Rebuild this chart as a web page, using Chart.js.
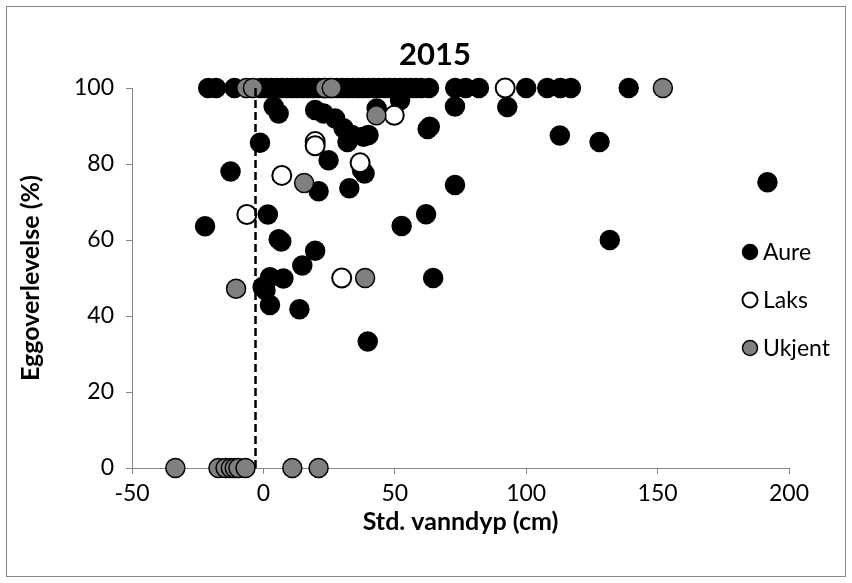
<!DOCTYPE html>
<html>
<head>
<meta charset="utf-8">
<script src="https://cdn.jsdelivr.net/npm/chart.js@4.4.0/dist/chart.umd.min.js"></script>
<style>
  html, body { margin: 0; padding: 0; background: #fff; }
  canvas { display: block; }
</style>
</head>
<body>
<canvas id="chart" width="852" height="583"></canvas>
<script>
// Aure (trout) - std. water depth (cm) vs egg survival (%)
const aureX = [-21, -18, -11, -1, 1, 3, 5, 7, 9, 11, 13, 15, 17, 19, 21, 23, 25, 28, 30, 32, 34, 36, 38, 40,
  42, 44, 46, 48, 50, 52, 54, 56, 58, 60, 63, 73, 77, 82, 100, 108, 113, 117, 139,
  3.9, 5.8, 19.7, 22.9, 27.3, 30.5, 33.7, 38.1, 40, 43.1, 52, 32, -1.3, 24.8, 37.5, 38.5,
  -12.5, 21, 32.7, 62.5, 63.3, 72.9, 92.8, 112.8, 127.9, 72.9, 61.9, 52.6, 1.7, -22.2,
  5.8, 6.8, 19.7, 14.8, 2.5, 7.6, 64.6, 131.8, 191.8, -0.3, 0.8, 2.5, 13.7, 39.7];
const aureY = [100, 100, 100, 100, 100, 100, 100, 100, 100, 100, 100, 100, 100, 100, 100, 100, 100, 100, 100, 100, 100, 100, 100, 100,
  100, 100, 100, 100, 100, 100, 100, 100, 100, 100, 100, 100, 100, 100, 100, 100, 100, 100, 100,
  95.1, 93.3, 94.2, 93.3, 92, 89.4, 87.6, 87.2, 87.6, 94.6, 96.8, 85.8, 85.6, 81, 78.4, 77.5,
  78, 72.8, 73.6, 89.2, 89.8, 95.1, 95, 87.5, 85.8, 74.5, 66.8, 63.7, 66.7, 63.6,
  60.2, 59.6, 57.2, 53.3, 50.2, 49.9, 50, 60, 75.2, 47.6, 46.8, 42.9, 41.8, 33.3];

// Laks (salmon)
const laksX = [-6.3, 7, 19.7, 19.7, 36.8, 49.8, 92, 29.8];
const laksY = [66.7, 77, 85.9, 84.8, 80.3, 92.8, 100, 50];

// Ukjent (unknown)
const ukjentX = [-6.5, -4, 23.5, 26, 152, 43, 15.5, 38.7, -10.4,
  -33.5, -17.1, -14.4, -12.4, -10.9, -9.5, -6.8, 11, 21];
const ukjentY = [100, 100, 100, 100, 100, 92.8, 75, 50, 47.2,
  0, 0, 0, 0, 0, 0, 0, 0, 0];

// dashed reference line
const dashX = [-3, -3];
const dashY = [0, 100];

const seriesNames = ['Aure', 'Laks', 'Ukjent'];
const xTicks = [-50, 0, 50, 100, 150, 200];
const yTicks = [0, 20, 40, 60, 80, 100];

function toPoints(xs, ys) {
    return xs.map((x, i) => ({ x: x, y: ys[i] }));
}

const axisGray = '#868686';
const fontName = 'Lato, Carlito, Calibri, sans-serif';

const markerStyles = [
    { fill: '#000000', stroke: '#000000', width: 1.5 },
    { fill: '#ffffff', stroke: '#000000', width: 2 },
    { fill: '#808080', stroke: '#000000', width: 1.5 },
];

// background, outer frame, title and legend
const framePlugin = {
    id: 'framePlugin',
    beforeDraw(chart) {
        const ctx = chart.ctx;
        ctx.save();
        ctx.fillStyle = '#ffffff';
        ctx.fillRect(0, 0, chart.width, chart.height);
        ctx.strokeStyle = axisGray;
        ctx.lineWidth = 1;
        ctx.strokeRect(6.5, 6.5, 839, 570);
        ctx.restore();
    },
    afterDraw(chart) {
        const ctx = chart.ctx;
        ctx.save();
        ctx.fillStyle = '#000000';
        ctx.font = 'bold 31px ' + fontName;
        ctx.textAlign = 'center';
        ctx.textBaseline = 'alphabetic';
        ctx.fillText('2015', 435, 65);

        ctx.font = '23px ' + fontName;
        ctx.textAlign = 'left';
        ctx.textBaseline = 'middle';
        seriesNames.forEach((name, i) => {
            const y = 252 + i * 48;
            const st = markerStyles[i];
            ctx.beginPath();
            ctx.arc(750, y, 7.5, 0, Math.PI * 2);
            ctx.fillStyle = st.fill;
            ctx.fill();
            ctx.lineWidth = st.width;
            ctx.strokeStyle = st.stroke;
            ctx.stroke();
            ctx.fillStyle = '#000000';
            ctx.fillText(name, 763, y + 1);
        });
        ctx.restore();
    }
};

const ctx = document.getElementById('chart').getContext('2d');
new Chart(ctx, {
    type: 'scatter',
    data: {
        datasets: [
            {
                label: 'dash',
                type: 'line',
                data: toPoints(dashX, dashY),
                borderColor: '#000000',
                borderWidth: 2.5,
                borderDash: [8, 4],
                pointRadius: 0,
                fill: false,
                order: 0,
                clip: false,
            },
            {
                label: seriesNames[0],
                data: toPoints(aureX, aureY),
                backgroundColor: markerStyles[0].fill,
                borderColor: markerStyles[0].stroke,
                borderWidth: markerStyles[0].width,
                pointRadius: 9.5,
                order: 3,
                clip: false,
            },
            {
                label: seriesNames[1],
                data: toPoints(laksX, laksY),
                backgroundColor: markerStyles[1].fill,
                borderColor: markerStyles[1].stroke,
                borderWidth: markerStyles[1].width,
                pointRadius: 9.5,
                order: 2,
                clip: false,
            },
            {
                label: seriesNames[2],
                data: toPoints(ukjentX, ukjentY),
                backgroundColor: markerStyles[2].fill,
                borderColor: markerStyles[2].stroke,
                borderWidth: markerStyles[2].width,
                pointRadius: 9.5,
                order: 1,
                clip: false,
            },
        ],
    },
    options: {
        responsive: false,
        animation: false,
        devicePixelRatio: 1,
        layout: {
            padding: { left: 0, top: 88, right: 63, bottom: 0 },
        },
        plugins: {
            legend: { display: false },
            tooltip: { enabled: false },
            title: { display: false },
        },
        scales: {
            x: {
                type: 'linear',
                min: xTicks[0],
                max: xTicks[xTicks.length - 1],
                afterBuildTicks: (scale) => { scale.ticks = xTicks.map(v => ({ value: v })); },
                afterFit: (scale) => { scale.height = 115; },
                ticks: {
                    color: '#000000',
                    font: { family: fontName, size: 23 },
                    padding: 6,
                },
                grid: {
                    display: true,
                    drawOnChartArea: false,
                    drawTicks: true,
                    tickLength: 6,
                    color: axisGray,
                },
                border: { color: axisGray, width: 1 },
                title: {
                    display: true,
                    text: 'Std. vanndyp (cm)',
                    color: '#000000',
                    font: { family: fontName, size: 25, weight: 'bold' },
                    padding: { top: 0, bottom: 46 },
                },
            },
            y: {
                type: 'linear',
                min: yTicks[0],
                max: yTicks[yTicks.length - 1],
                afterBuildTicks: (scale) => { scale.ticks = yTicks.map(v => ({ value: v })); },
                afterFit: (scale) => { scale.width = 132; },
                ticks: {
                    color: '#000000',
                    font: { family: fontName, size: 23 },
                    padding: 12,
                },
                grid: {
                    display: true,
                    drawOnChartArea: false,
                    drawTicks: true,
                    tickLength: 6,
                    color: axisGray,
                },
                border: { color: axisGray, width: 1 },
                title: {
                    display: true,
                    text: 'Eggoverlevelse (%)',
                    color: '#000000',
                    font: { family: fontName, size: 25, weight: 'bold' },
                    padding: { top: 16, bottom: 0 },
                },
            },
        },
    },
    plugins: [framePlugin],
});
</script>
</body>
</html>
